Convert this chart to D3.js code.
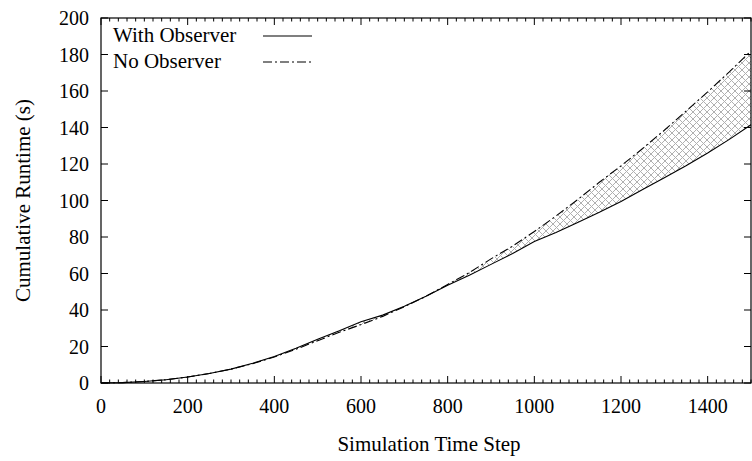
<!DOCTYPE html>
<html>
<head>
<meta charset="utf-8">
<script src="https://cdn.jsdelivr.net/npm/d3@7"></script>
<style>
  body { margin: 0; background: #fff; }
  svg text { font-family: "Liberation Serif", "Times New Roman", serif; font-size: 21px; fill: #000; }
  svg text.tick { font-size: 20px; }
</style>
</head>
<body>
<svg id="chart" width="752" height="461"></svg>
<script>
var steps = d3.range(0, 1501, 50);
var withObserver = [0, 0.2, 0.8, 1.8, 3.3, 5.2, 7.6, 10.8, 14.5, 19.0, 24.0, 28.6, 33.6, 37.2, 42.0,
  47.5, 53.5, 59.0, 65.0, 71.0, 77.5, 82.5, 88.0, 93.5, 99.5, 106.0, 112.5, 119.0, 126.0, 133.5, 141.5];
var noObserver = [0, 0.2, 0.8, 1.8, 3.3, 5.2, 7.6, 10.6, 14.2, 18.5, 23.2, 27.8, 32.0, 36.5, 41.8,
  47.5, 54.0, 60.5, 68.0, 75.0, 83.0, 91.5, 100.5, 110.0, 119.0, 128.5, 138.5, 149.0, 159.5, 170.5, 182.0];
var xTicks = [0, 200, 400, 600, 800, 1000, 1200, 1400];
var yTicks = [0, 20, 40, 60, 80, 100, 120, 140, 160, 180, 200];
var seriesNames = ["With Observer", "No Observer"];

var svg = d3.select("#chart");
var pLeft = 101, pRight = 751, pTop = 18, pBottom = 383;

var x = d3.scaleLinear().domain([0, 1500]).range([pLeft, pRight]);
var y = d3.scaleLinear().domain([0, 200]).range([pBottom, pTop]);

// crosshatch fill between curves
var defs = svg.append("defs");
var pat = defs.append("pattern")
  .attr("id", "hatch")
  .attr("patternUnits", "userSpaceOnUse")
  .attr("width", 7).attr("height", 7);
pat.append("path").attr("d", "M-1,1 l2,-2 M0,7 l7,-7 M6,8 l2,-2")
  .attr("stroke", "#b0b0b0").attr("stroke-width", 1);
pat.append("path").attr("d", "M-1,6 l2,2 M0,0 l7,7 M6,-1 l2,2")
  .attr("stroke", "#b0b0b0").attr("stroke-width", 1);

var rows = steps.map(function(s, i) { return {s: s, a: withObserver[i], b: noObserver[i]}; });

var area = d3.area()
  .x(function(d) { return x(d.s); })
  .y0(function(d) { return y(d.a); })
  .y1(function(d) { return y(d.b); });

svg.append("path").datum(rows)
  .attr("d", area)
  .attr("fill", "url(#hatch)");

var lineA = d3.line().x(function(d) { return x(d.s); }).y(function(d) { return y(d.a); });
var lineB = d3.line().x(function(d) { return x(d.s); }).y(function(d) { return y(d.b); });

svg.append("path").datum(rows)
  .attr("d", lineB)
  .attr("fill", "none").attr("stroke", "#000").attr("stroke-width", 1.1)
  .attr("stroke-dasharray", "9,3,2,3");

svg.append("path").datum(rows)
  .attr("d", lineA)
  .attr("fill", "none").attr("stroke", "#000").attr("stroke-width", 1.1);

// frame
svg.append("rect")
  .attr("x", pLeft).attr("y", pTop)
  .attr("width", pRight - pLeft).attr("height", pBottom - pTop)
  .attr("fill", "none").attr("stroke", "#000").attr("stroke-width", 1.2);

// ticks (gnuplot style, inward and mirrored)
var ticks = svg.append("g").attr("stroke", "#000").attr("stroke-width", 1);
var minor = d3.range(0, 1501, 20);
minor.forEach(function(v) {
  var len = (v % 200 === 0) ? 7 : 3.5;
  ticks.append("line").attr("x1", x(v)).attr("x2", x(v)).attr("y1", pBottom).attr("y2", pBottom - len);
  ticks.append("line").attr("x1", x(v)).attr("x2", x(v)).attr("y1", pTop).attr("y2", pTop + len);
});
yTicks.forEach(function(v) {
  ticks.append("line").attr("x1", pLeft).attr("x2", pLeft + 7).attr("y1", y(v)).attr("y2", y(v));
  ticks.append("line").attr("x1", pRight).attr("x2", pRight - 7).attr("y1", y(v)).attr("y2", y(v));
});

// tick labels
svg.append("g").selectAll("text").data(xTicks).enter().append("text")
  .attr("class", "tick")
  .attr("x", function(d) { return x(d); })
  .attr("y", 413)
  .attr("text-anchor", "middle")
  .text(function(d) { return d; });

svg.append("g").selectAll("text").data(yTicks).enter().append("text")
  .attr("class", "tick")
  .attr("x", 89)
  .attr("y", function(d) { return y(d) + 7; })
  .attr("text-anchor", "end")
  .text(function(d) { return d; });

// axis titles
svg.append("text")
  .attr("x", 429).attr("y", 451)
  .attr("text-anchor", "middle")
  .text("Simulation Time Step");

svg.append("text")
  .attr("transform", "translate(30," + ((pTop + pBottom) / 2) + ") rotate(-90)")
  .attr("text-anchor", "middle")
  .text("Cumulative Runtime (s)");

// legend
var legend = svg.append("g");
seriesNames.forEach(function(name, i) {
  var ly = 36 + i * 26;
  legend.append("text").attr("x", 113).attr("y", ly + 6).text(name);
  var ln = legend.append("line")
    .attr("x1", 263).attr("x2", 312).attr("y1", ly).attr("y2", ly)
    .attr("stroke", "#000").attr("stroke-width", 1.1);
  if (i === 1) ln.attr("stroke-dasharray", "9,3,2,3");
});
</script>
</body>
</html>
